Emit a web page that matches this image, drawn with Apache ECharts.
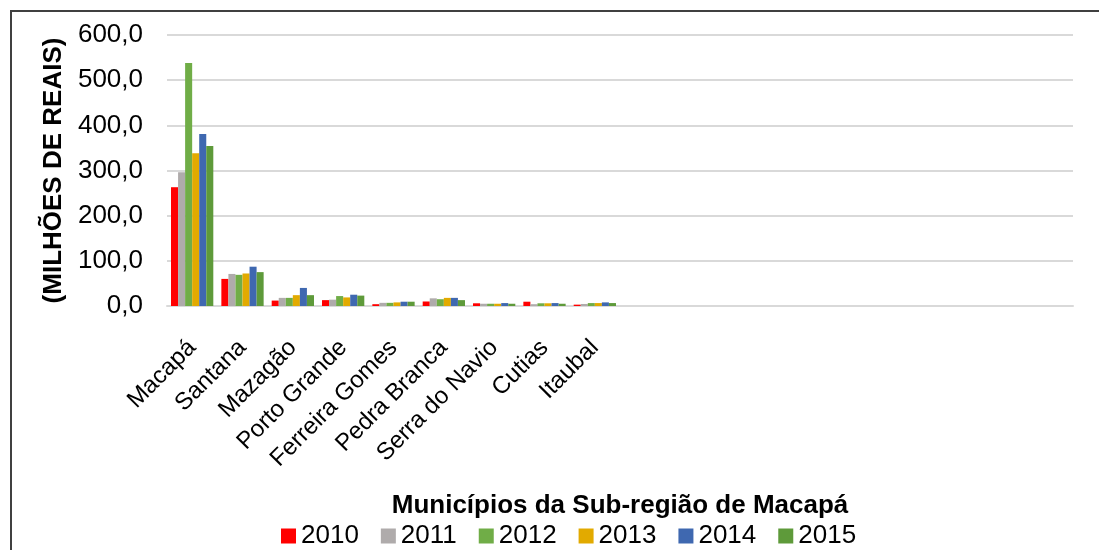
<!DOCTYPE html>
<html>
<head>
<meta charset="utf-8">
<script src="https://cdn.jsdelivr.net/npm/echarts@6/dist/echarts.min.js"></script>
<style>
  html, body { margin: 0; padding: 0; background: #ffffff; }
  #frame { position: absolute; left: 10px; top: 10px; width: 1100px; height: 560px; border: 2px solid #404040; box-sizing: border-box; }
  #chart { position: absolute; left: 0; top: 0; width: 1099px; height: 550px; }
</style>
</head>
<body>
<div id="frame"></div>
<div id="chart"></div>
<script>
// municípios (o eixo do original continua com categorias vazias)
const municipios = ['Macapá', 'Santana', 'Mazagão', 'Porto Grande', 'Ferreira Gomes',
  'Pedra Branca', 'Serra do Navio', 'Cutias', 'Itaubal',
  '', '', '', '', '', '', '', '', ''];
const anos = ['2010', '2011', '2012', '2013', '2014', '2015'];
const cores = ['#FF0000', '#AFABAB', '#70AD47', '#E2AA00', '#3F68B0', '#5E9A3A'];

// valores em milhões de reais
const v2010 = [263, 60, 12, 13, 4, 10, 6, 9.5, 3];
const v2011 = [296, 71, 18, 14, 7, 17, 5, 4, 4.5];
const v2012 = [538, 69, 18, 22, 7, 15, 5, 6, 6.5];
const v2013 = [338, 72, 24, 19, 8, 18, 5, 6, 6.5];
const v2014 = [381, 87, 40, 25, 9.5, 18, 6.5, 6.5, 8];
const v2015 = [354, 75, 24, 23, 9.5, 13, 5, 5, 6.5];
const valores = [v2010, v2011, v2012, v2013, v2014, v2015];

const yTicks = [0, 100, 200, 300, 400, 500, 600];

const chart = echarts.init(document.getElementById('chart'));

let series = []
anos.forEach((ano, i) => {
  series.push({
    name: ano,
    type: 'bar',
    barGap: 0,
    barCategoryGap: '16%',
    itemStyle: { color: cores[i] },
    data: valores[i]
  })
})

chart.setOption({
  animation: false,
  textStyle: { fontFamily: 'Liberation Sans, Arial, sans-serif' },
  grid: { left: 167, right: 26, top: 35, bottom: 244 },
  legend: {
    top: 518,
    left: 276,
    itemWidth: 15,
    itemHeight: 15,
    itemGap: 22,
    icon: 'rect',
    textStyle: { fontSize: 26, color: '#000000' },
    data: anos
  },
  xAxis: {
    type: 'category',
    data: municipios,
    name: 'Municípios da Sub-região de Macapá',
    nameLocation: 'middle',
    nameGap: 187,
    nameTextStyle: { fontSize: 26, fontWeight: 'bold', color: '#000000' },
    axisLine: { show: true, lineStyle: { color: '#D9D9D9', width: 2 } },
    axisTick: { show: false },
    axisLabel: { interval: 0, rotate: 45, fontSize: 24, color: '#000000', margin: 38 }
  },
  yAxis: {
    type: 'value',
    min: yTicks[0],
    max: yTicks[yTicks.length - 1],
    interval: 100,
    name: '(MILHÕES DE REAIS)',
    nameLocation: 'middle',
    nameGap: 100,
    nameTextStyle: { fontSize: 26, fontWeight: 'bold', color: '#000000' },
    axisLine: { show: false },
    axisTick: { show: false },
    axisLabel: {
      fontSize: 26, color: '#000000', margin: 24,
      formatter: v => v.toFixed(1).replace('.', ',')
    },
    splitLine: { lineStyle: { color: '#D9D9D9', width: 2 } }
  },
  series: series
})
</script>
</body>
</html>
